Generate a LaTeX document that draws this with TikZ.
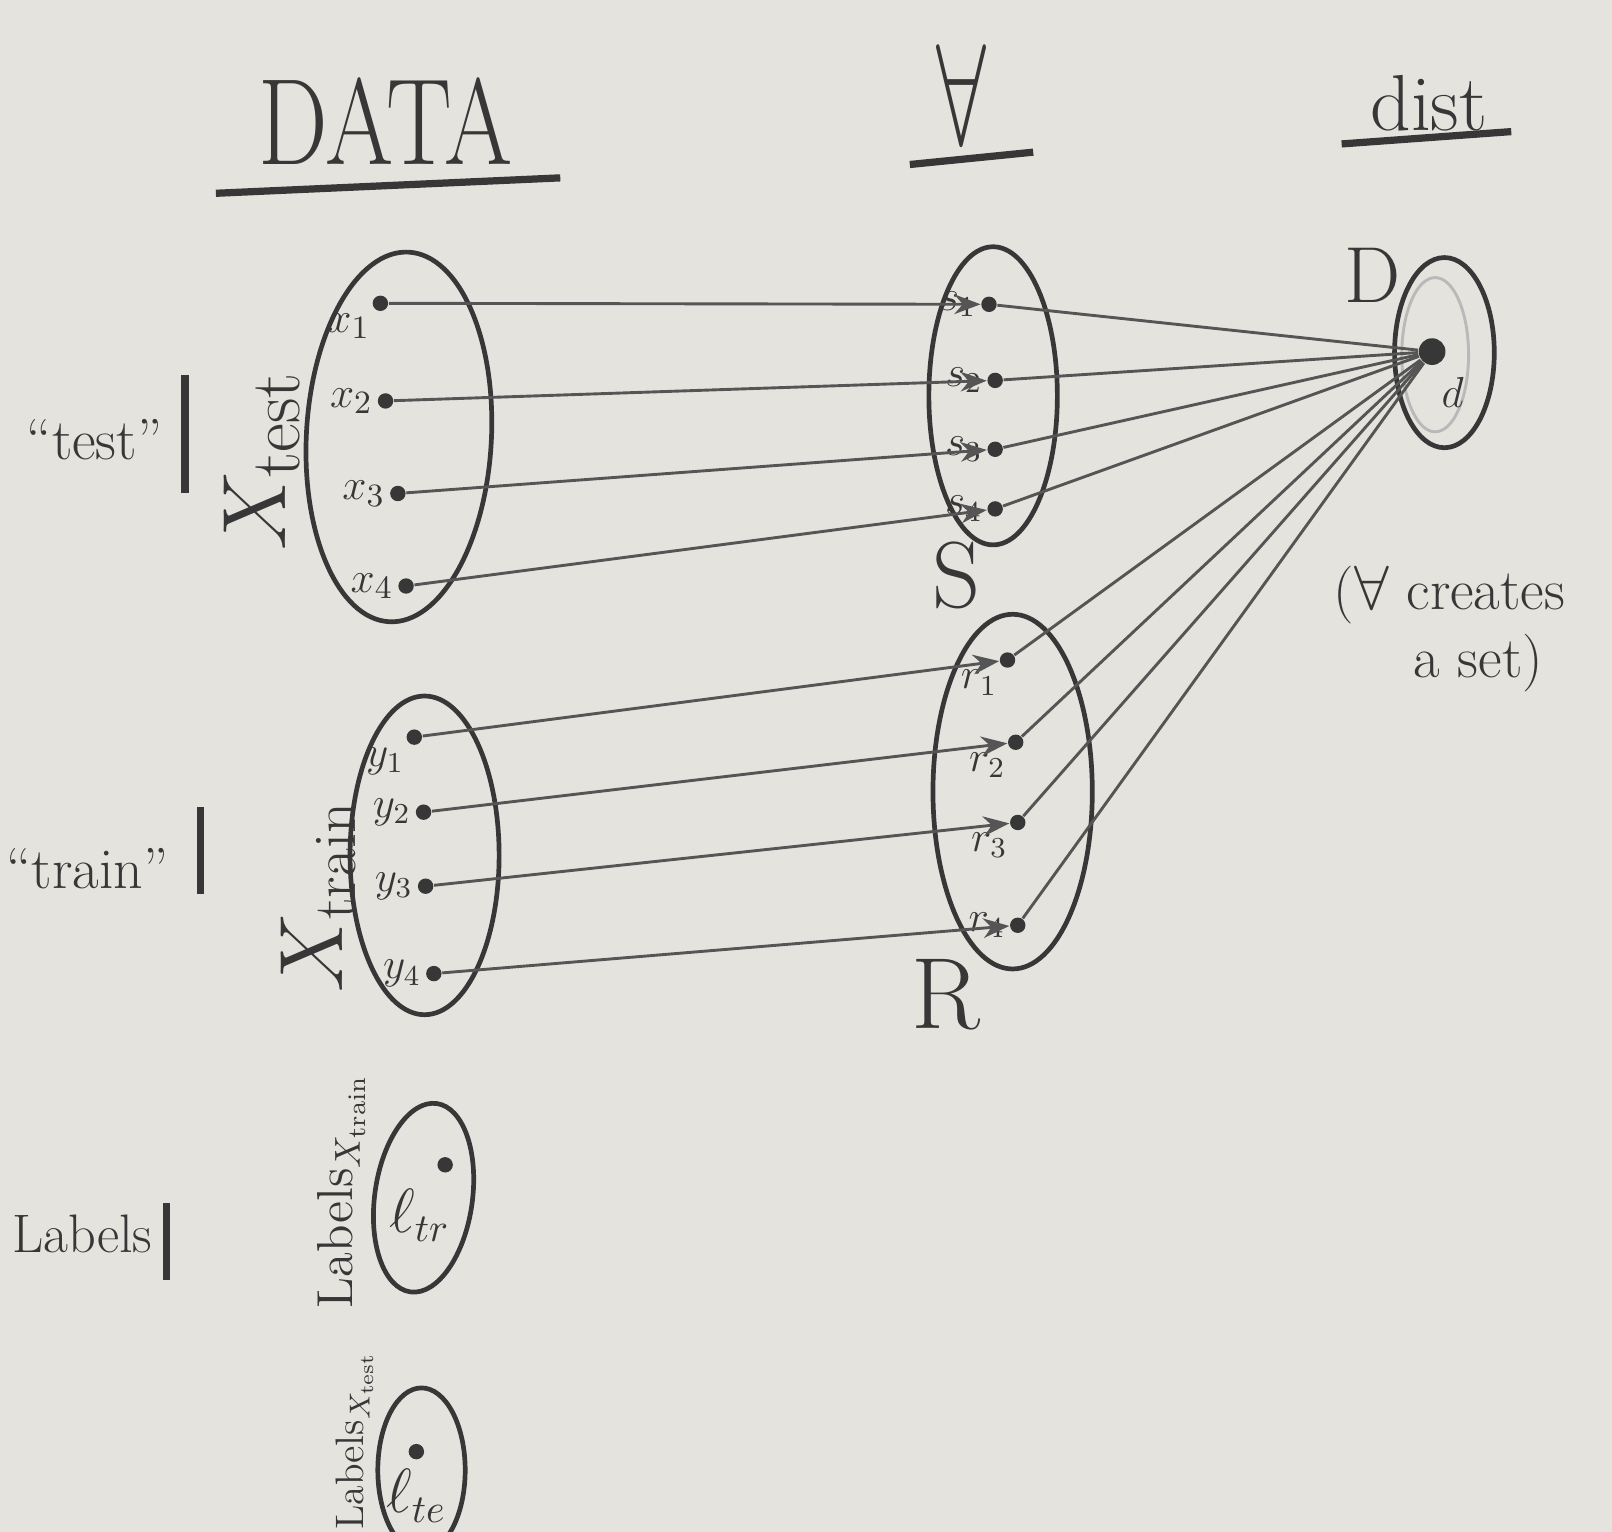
\documentclass[tikz,border=0pt]{standalone}
\usepackage{amsmath}
\usepackage{amssymb}
\usepackage{tikz}
\usetikzlibrary{arrows.meta,shapes.geometric,positioning}
\definecolor{paper}{RGB}{229,227,222}
\definecolor{pencil}{RGB}{55,55,55}
\tikzset{>/.tip={Stealth[scale=1.1]}}

\begin{document}
\begin{tikzpicture}[x=0.1mm,y=-0.1mm,
  set/.style={draw=pencil, ellipse, line width=1.3pt, inner sep=0pt},
  pt/.style={circle, fill=pencil, inner sep=0pt, minimum size=1.5mm},
  link/.style={draw=pencil!85, line width=0.8pt},
  hand/.style={text=pencil, font=\fontsize{16}{19}\selectfont},
  tiny/.style={text=pencil, font=\fontsize{13}{15}\selectfont, inner sep=1pt},
  small/.style={text=pencil, font=\fontsize{12}{14}\selectfont, inner sep=1pt},
  big/.style={text=pencil, font=\fontsize{26}{30}\selectfont},
  bar/.style={draw=pencil, line width=2pt}]
\fill[paper] (0,0) rectangle (1568,1490);
\useasboundingbox (0,0) rectangle (1568,1490);
\clip (0,0) rectangle (1568,1490);

% headings
\node[text=pencil, font=\fontsize{34}{38}\selectfont, xscale=0.8] (data) at (375,118) {DATA};
\node[text=pencil, font=\fontsize{48}{52}\selectfont, yscale=1.6] (alg) at (935,92) {$\forall$};
\node[text=pencil, font=\fontsize{22}{26}\selectfont] (dist) at (1390,100) {dist};
\draw[bar] (210,188) -- (545,173);
\draw[bar] (885,160) -- (1005,148);
\draw[bar] (1305,140) -- (1470,128);

% rows
\node[hand] (test) at (92,428) {``test''};
\node[hand] (train) at (85,845) {``train''};
\node[hand, font=\fontsize{15}{18}\selectfont] (labels) at (80,1200) {Labels};
\draw[bar] (180,365) -- (180,480);
\draw[bar] (195,785) -- (195,870);
\draw[bar] (162,1170) -- (162,1245);

% X test
\node[set, minimum width=18mm, minimum height=36mm, rotate=-3] (xtest) at (388,425) {};
\node[big, font=\fontsize{28}{30}\selectfont, rotate=90, anchor=west] at (255,548) {$X_{\text{test}}$};
\foreach \i/\px/\py/\pos in {1/370/295/below left, 2/375/390/left, 3/387/480/left, 4/395/570/left}
  \node[pt, label={[tiny]\pos:$x_{\i}$}] (x\i) at (\px,\py) {};

% X train
\node[set, minimum width=14.5mm, minimum height=31mm] (xtrain) at (413,832) {};
\node[big, font=\fontsize{24}{26}\selectfont, rotate=90, anchor=west] at (310,978) {$X_{\text{train}}$};
\foreach \i/\px/\py/\pos in {1/403/717/below left, 2/412/790/left, 3/414/862/left, 4/422/947/left}
  \node[pt, label={[small]\pos:$y_{\i}$}] (y\i) at (\px,\py) {};

% S and R
\node[set, minimum width=12.5mm, minimum height=29mm] (S) at (966,385) {};
\node[big] at (930,560) {S};
\foreach \i/\px/\py in {1/962/296, 2/968/370, 3/968/437, 4/968/495}
  \node[pt, label={[small]left:$s_{\i}$}] (s\i) at (\px,\py) {};

\node[set, minimum width=15.5mm, minimum height=34.5mm] (R) at (985,770) {};
\node[big, font=\fontsize{28}{30}\selectfont] at (920,968) {R};
\foreach \i/\px/\py/\pos in {1/980/642/below left, 2/988/722/below left, 3/990/800/below left, 4/990/900/left}
  \node[pt, label={[small]\pos:$r_{\i}$}] (r\i) at (\px,\py) {};

% dist set
\node[set, minimum width=9.7mm, minimum height=18.5mm] (D) at (1405,343) {};
\node[set, draw=pencil!35, line width=0.8pt, minimum width=6.5mm, minimum height=15mm] (Din) at (1396,345) {};
\node[pt, minimum size=2.6mm] (p) at (1393,342) {};
\node[big, font=\fontsize{22}{26}\selectfont] at (1335,268) {D};
\node[small] at (1413,382) {$d$};
\node[hand, align=center] (note) at (1410,612) {($\forall$ creates\\ \quad a set)};

% labels sets
\node[set, minimum width=9.5mm, minimum height=18.5mm, rotate=-8] (ltrain) at (412,1165) {};
\node[pt] (ltr) at (433,1133) {};
\node[hand] at (408,1182) {$\ell_{tr}$};
\node[hand, font=\fontsize{14}{16}\selectfont, rotate=90, anchor=east] at (332,1032) {Labels$_{X_{\text{train}}}$};

\node[set, minimum width=8.5mm, minimum height=16mm] (ltest) at (410,1430) {};
\node[pt] (lte) at (405,1412) {};
\node[hand] at (405,1455) {$\ell_{te}$};
\node[hand, font=\fontsize{11}{13}\selectfont, rotate=90, anchor=east] at (345,1302) {Labels$_{X_{\text{test}}}$};

% links
\foreach \i in {1,...,4}
{
  \draw[link,->] (x\i) -- (s\i);
  \draw[link,->] (y\i) -- (r\i);
  \draw[link] (s\i) -- (p);
  \draw[link] (r\i) -- (p);
}
\end{tikzpicture}
\end{document}
